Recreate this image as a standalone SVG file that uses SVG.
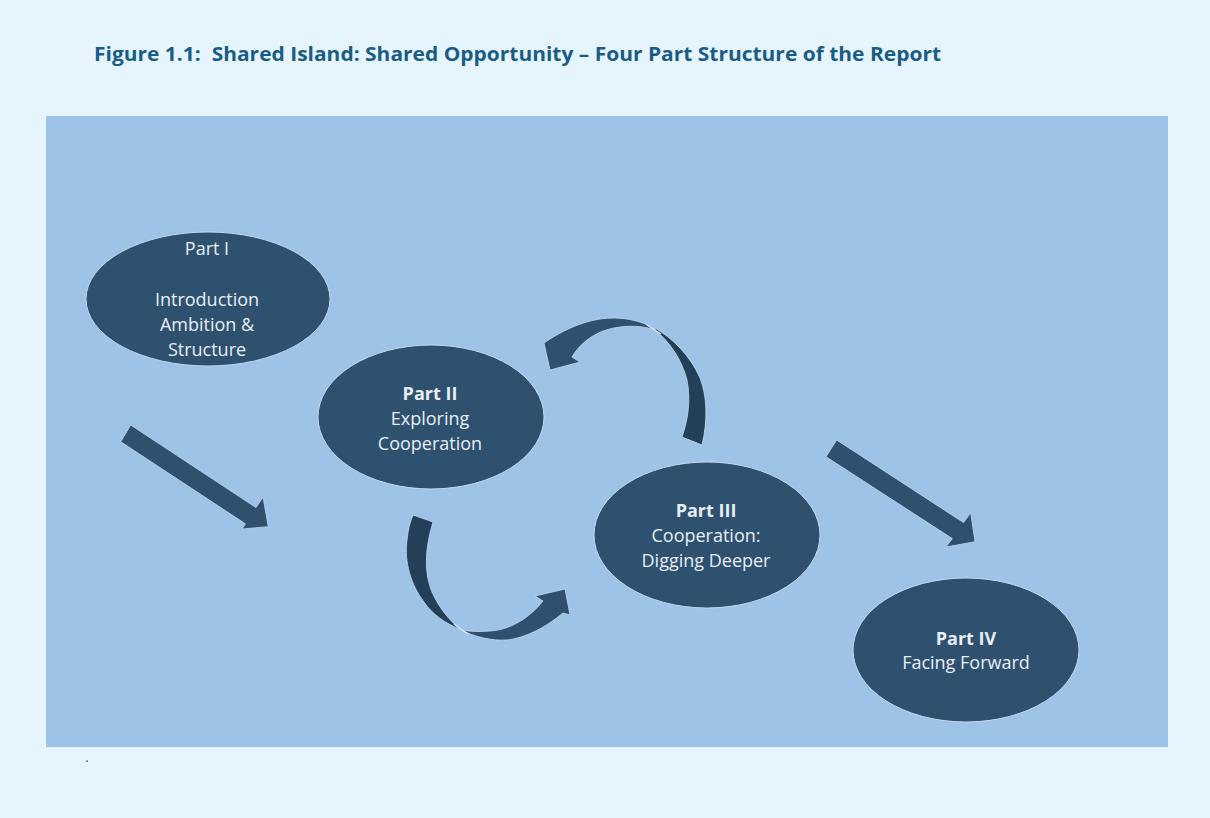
<svg xmlns="http://www.w3.org/2000/svg" width="1210" height="818" viewBox="0 0 1210 818">
<style>
.node{fill:#2e5170;stroke:#c3d9ee;stroke-width:1}
.lbl{font-family:"Open Sans","Liberation Sans",sans-serif;font-size:18px;fill:#e9eef4;text-anchor:middle}
.b{font-weight:bold}
.arr{fill:#2e5170;stroke:#c3d9ee;stroke-width:0.8}
.dk{fill:#243f58;stroke:#c3d9ee;stroke-width:0.8}
.seam{stroke:#dfeaf5;stroke-width:1.3;fill:none}
</style>
<rect x="0" y="0" width="1210" height="818" fill="#e6f5fd"/>
<text x="94" y="61" xml:space="preserve" textLength="847" lengthAdjust="spacingAndGlyphs" font-family="'Open Sans','Liberation Sans',sans-serif" font-size="19.5" font-weight="bold" fill="#1a5c85">Figure 1.1:  Shared Island: Shared Opportunity – Four Part Structure of the Report</text>
<rect x="46" y="116" width="1122" height="631" fill="#9dc3e6"/>
<text x="85" y="762" font-family="'Liberation Sans',sans-serif" font-size="14" fill="#1f4e79">.</text>

<g id="connectors">
  <polygon class="arr" points="130.7,425 256,507.6 263,497 268.3,526.7 242,529 245.4,523.8 120.7,441.7"/>
  <polygon class="arr" points="836.7,440 963.6,522.6 970.7,512.7 975,541.7 946,547 952.3,538.6 826,456.7"/>
  <g id="curve-upper">
    <path class="dk" d="M655,328 C672,338 690,355 700,378 C707,396 708,420 702,445 L682,437 C688,420 691,400 687,380 C682,360 670,342 655,330 Z"/>
    <path class="arr" d="M653,328 C640,320 620,316 600,319 C580,322 560,332 544,343 L550,370 L580,362 L572,357 C578,346 590,336 603,331 C620,325 638,325 652,329 Z"/>
    <path class="seam" d="M647,325 L661,334"/>
  </g>
  <g id="curve-lower">
    <path class="dk" d="M413,515 L433,522 C426,545 423,570 432,592 C439,608 449,620 460,629 C446,624 432,614 424,602 C411,585 404,562 407,540 C408,530 410,522 413,515 Z"/>
    <path class="arr" d="M461,630 C475,637 492,641 507,640 C525,638 545,628 563,613 L570,615 L565,589 L535,596 L543,601 C532,615 515,627 498,630 C485,632 472,632 463,630 Z"/>
    <path class="seam" d="M454,624 L468,634"/>
  </g>
</g>

<g id="part1">
  <ellipse class="node" cx="208" cy="299" rx="122" ry="67"/>
  <text class="lbl" x="207" y="255">Part I</text>
  <text class="lbl" x="207" y="306">Introduction</text>
  <text class="lbl" x="207" y="331">Ambition &amp;</text>
  <text class="lbl" x="207" y="356">Structure</text>
</g>
<g id="part2">
  <ellipse class="node" cx="431" cy="417" rx="113" ry="72"/>
  <text class="lbl b" x="430" y="400">Part II</text>
  <text class="lbl" x="430" y="425">Exploring</text>
  <text class="lbl" x="430" y="450">Cooperation</text>
</g>
<g id="part3">
  <ellipse class="node" cx="707" cy="535" rx="113" ry="73"/>
  <text class="lbl b" x="706" y="517">Part III</text>
  <text class="lbl" x="706" y="542">Cooperation:</text>
  <text class="lbl" x="706" y="567">Digging Deeper</text>
</g>
<g id="part4">
  <ellipse class="node" cx="966" cy="650" rx="113" ry="72"/>
  <text class="lbl b" x="966" y="645">Part IV</text>
  <text class="lbl" x="966" y="669">Facing Forward</text>
</g>
</svg>
